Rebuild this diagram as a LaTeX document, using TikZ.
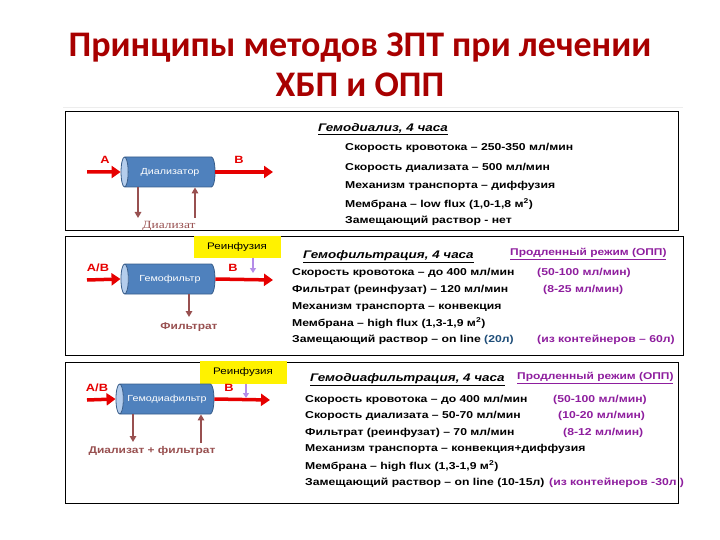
\documentclass[tikz,border=0pt]{standalone}
\usepackage{fontspec}
\setmainfont[FakeStretch=1.22]{Liberation Sans}
\newfontfamily\titlefont{Carlito}
\newfontfamily\serifname[FakeStretch=1.22]{Liberation Serif}
\usetikzlibrary{arrows.meta,positioning,shapes.geometric}
\definecolor{titlered}{HTML}{A80000}
\definecolor{flowred}{HTML}{E60000}
\definecolor{drainbrown}{HTML}{985050}
\definecolor{cylblue}{HTML}{4F81BD}
\definecolor{cylline}{HTML}{385D8A}
\definecolor{cylcap}{HTML}{B4CDEC}
\definecolor{optpurple}{HTML}{8E1E9E}
\definecolor{refillpurple}{HTML}{B48CE8}
\definecolor{volblue}{HTML}{1F4E79}

\begin{document}
\begin{tikzpicture}[x=1pt, y=-1pt,
  panel/.style={draw=black, line width=0.9pt},
  ttl/.style={anchor=base, text=titlered, font=\titlefont\bfseries\fontsize{36}{40}\selectfont},
  filter/.style={cylinder, shape border rotate=180, aspect=0.9, draw=cylline,
                 line width=0.8pt, cylinder uses custom fill,
                 cylinder body fill=cylblue, cylinder end fill=cylcap,
                 minimum width=30pt, minimum height=94pt, inner sep=0pt,
                 text=white, font=\fontsize{8.8}{10}\selectfont},
  flow/.style={draw=flowred, line width=3.5pt, -{Triangle[length=9pt,width=12pt]}},
  drain/.style={draw=drainbrown, line width=1.8pt, -{Triangle[length=6pt,width=6.5pt]}},
  refill/.style={draw=refillpurple, line width=1.5pt, -{Triangle[length=5pt,width=6pt]}},
  ab/.style={text=flowred, font=\bfseries\fontsize{10.5}{12}\selectfont, inner sep=0pt},
  outlbl/.style={text=drainbrown, font=\bfseries\fontsize{9.8}{11}\selectfont, inner sep=0pt},
  yel/.style={fill=yellow, minimum width=87pt, minimum height=22pt, inner sep=0pt,
              font=\fontsize{9.5}{11}\selectfont},
  head/.style={anchor=west, inner sep=0pt, font=\bfseries\itshape\fontsize{11}{12}\selectfont},
  opp/.style={anchor=west, inner sep=0pt, text=optpurple, font=\bfseries\fontsize{9.8}{11}\selectfont},
  ln/.style={anchor=west, inner sep=0pt, font=\bfseries\fontsize{10}{12}\selectfont},
  alt/.style={ln, text=optpurple}
]
\useasboundingbox (0,0) rectangle (720,540);

% title
\node[ttl] (t1) at (360,57) {Принципы методов ЗПТ при лечении};
\node[ttl] (t2) at (360,97) {ХБП и ОПП};
\draw[black!7] (63,107) -- (683,107);

% panels
\draw[panel] (65,111) rectangle (678,230);
\draw[panel] (65,236) rectangle (683,355);
\draw[panel] (65,362) rectangle (678,503);

% --- hemodialysis
\node[filter] (dlz) at (170,172) {Диализатор};
\coordinate (a1) at (87,172);
\coordinate (b1) at (273,172);
\coordinate (d1) at (138,218);
\coordinate (r1) at (195,218);
\draw[flow] (a1) -- (dlz.west);
\draw[flow] (dlz.east) -- (b1);
\draw[drain] (dlz.south -| d1) -- (d1);
\draw[drain] (r1) -- (dlz.south -| r1);
\node[ab] (la1) at (105,160) {A};
\node[ab] (lb1) at (239,160) {B};
\node[text=drainbrown, inner sep=0pt, font=\serifname\fontsize{11}{12}\selectfont] (dlzt) at (169,226) {Диализат};

\node[head] (h1) at (318,129) {\underline{Гемодиализ, 4 часа}};
\node[ln] (l11) at (345,148) {Скорость кровотока – 250-350 мл/мин};
\node[ln] (l12) at (345,168) {Скорость диализата – 500 мл/мин};
\node[ln] (l13) at (345,186) {Механизм транспорта – диффузия};
\node[ln] (l14) at (345,204) {Мембрана – low flux (1,0-1,8 м\textsuperscript{2})};
\node[ln] (l15) at (345,221) {Замещающий раствор - нет};

% --- hemofiltration
\node[yel] (rf2) at (237,247) {Реинфузия};
\node[filter] (hf) at (170,279) {Гемофильтр};
\coordinate (a2) at (87,280);
\coordinate (b2) at (273,280);
\coordinate (p2) at (253,273);
\coordinate (f2) at (189,317);
\draw[flow] (a2) -- (hf.west);
\draw[flow] (hf.east) -- (b2);
\draw[refill] (rf2.south -| p2) -- (p2);
\draw[drain] (hf.south -| f2) -- (f2);
\node[ab] (la2) at (98,268) {A/B};
\node[ab] (lb2) at (233,268) {B};
\node[outlbl] (flt) at (189,327) {Фильтрат};

\node[head] (h2) at (303,257) {\underline{Гемофильтрация, 4 часа}};
\node[opp] (o2) at (510,254) {\underline{Продленный режим (ОПП)}};
\node[ln] (l21) at (292,273) {Скорость кровотока – до 400 мл/мин};
\node[ln] (l22) at (292,290) {Фильтрат (реинфузат) – 120 мл/мин};
\node[ln] (l23) at (292,307) {Механизм транспорта – конвекция};
\node[ln] (l24) at (292,323) {Мембрана – high flux (1,3-1,9 м\textsuperscript{2})};
\node[ln] (l25) at (292,340) {Замещающий раствор – on line};
\node[ln, text=volblue] (v25) at (484,340) {(20л)};
\node[alt] (x21) at (537,273) {(50-100 мл/мин)};
\node[alt] (x22) at (543,290) {(8-25 мл/мин)};
\node[alt] (x25) at (537,340) {(из контейнеров – 60л)};

% --- hemodiafiltration
\node[yel, minimum height=23pt] (rf3) at (243,372) {Реинфузия};
\node[filter, minimum height=98pt] (hdf) at (167,399) {Гемодиафильтр};
\coordinate (a3) at (87,400);
\coordinate (b3) at (270,400);
\coordinate (p3) at (246,398);
\coordinate (d3) at (133,442);
\coordinate (r3) at (201,443);
\draw[flow] (a3) -- (hdf.west);
\draw[flow] (hdf.east) -- (b3);
\draw[refill] (rf3.south -| p3) -- (p3);
\draw[drain] (hdf.south -| d3) -- (d3);
\draw[drain] (r3) -- (hdf.south -| r3);
\node[ab] (la3) at (97,388) {A/B};
\node[ab] (lb3) at (229,388) {B};
\node[outlbl] (dft) at (152,451) {Диализат + фильтрат};

\node[head] (h3) at (310,380) {\underline{Гемодиафильтрация, 4 часа}};
\node[opp] (o3) at (517,378) {\underline{Продленный режим (ОПП)}};
\node[ln] (l31) at (305,400) {Скорость кровотока – до 400 мл/мин};
\node[ln] (l32) at (305,416) {Скорость диализата – 50-70 мл/мин};
\node[ln] (l33) at (305,433) {Фильтрат (реинфузат) – 70 мл/мин};
\node[ln] (l34) at (305,449) {Механизм транспорта – конвекция+диффузия};
\node[ln] (l35) at (305,466) {Мембрана – high flux (1,3-1,9 м\textsuperscript{2})};
\node[ln] (l36) at (305,483) {Замещающий раствор – on line (10-15л)};
\node[alt] (x31) at (553,400) {(50-100 мл/мин)};
\node[alt] (x32) at (558,416) {(10-20 мл/мин)};
\node[alt] (x33) at (563,433) {(8-12 мл/мин)};
\node[alt] (x36) at (549,483) {(из контейнеров -30л )};
\end{tikzpicture}
\end{document}
